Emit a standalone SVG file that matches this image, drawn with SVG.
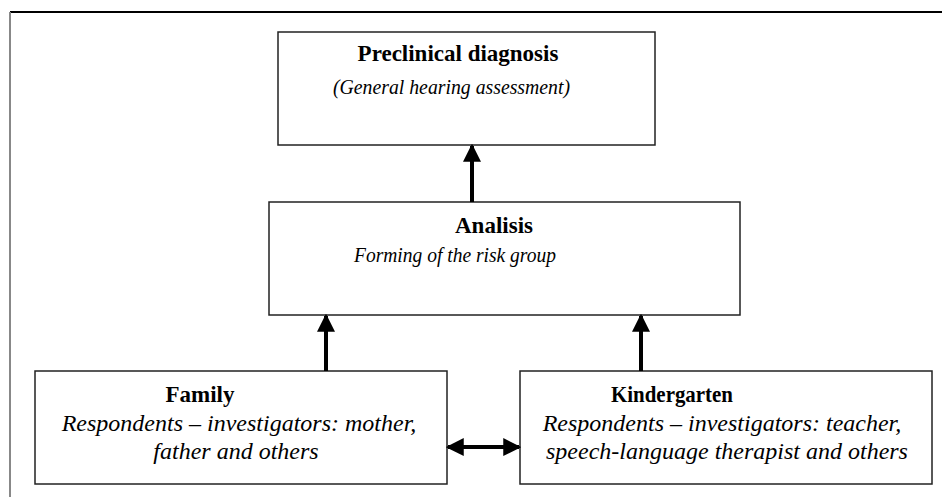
<svg xmlns="http://www.w3.org/2000/svg" width="943" height="497" viewBox="0 0 943 497">
<style>
.box{fill:#fff;stroke:#222;stroke-width:1.5}
.t{font-family:"Liberation Serif","Times New Roman",serif;font-size:22px;fill:#000}
.b{font-weight:bold;font-size:23px}
.i{font-style:italic}
.s{font-size:24px}
.m{text-anchor:middle}
.c{stroke:#000;stroke-width:4;fill:none}
</style>
<defs>
<marker id="ah" markerUnits="userSpaceOnUse" markerWidth="18" markerHeight="18" refX="14" refY="8" orient="auto-start-reverse" viewBox="0 0 16 16">
<path d="M0,0 L16,8 L0,16 Z" fill="#000"/>
</marker>
</defs>
<rect width="943" height="497" fill="#fff"/>
<g id="frame">
<line x1="10" y1="12" x2="942" y2="12" stroke="#000" stroke-width="2"/>
<line x1="10" y1="12" x2="10" y2="497" stroke="#888" stroke-width="2"/>
</g>
<g id="preclinical">
<rect class="box" x="278" y="32" width="377" height="113"/>
<text class="t b m" x="458" y="61">Preclinical diagnosis</text>
<text class="t i" x="333" y="94" textLength="237" lengthAdjust="spacingAndGlyphs">(General hearing assessment)</text>
</g>
<g id="analisis">
<rect class="box" x="269" y="202" width="471" height="113"/>
<text class="t b m" x="494" y="233">Analisis</text>
<text class="t i" x="354" y="262" textLength="202" lengthAdjust="spacingAndGlyphs">Forming of the risk group</text>
</g>
<g id="family">
<rect class="box" x="35" y="371" width="412" height="113"/>
<text class="t b m" x="200" y="402">Family</text>
<text class="t i s m" x="239" y="431">Respondents – investigators: mother,</text>
<text class="t i s m" x="236" y="459">father and others</text>
</g>
<g id="kindergarten">
<rect class="box" x="520" y="371" width="412" height="113"/>
<text class="t b" x="611" y="402" textLength="122" lengthAdjust="spacingAndGlyphs">Kindergarten</text>
<text class="t i s m" x="722" y="431">Respondents – investigators: teacher,</text>
<text class="t i s m" x="727" y="459">speech-language therapist and others</text>
</g>
<g id="connectors">
<line class="c" x1="472" y1="202" x2="472" y2="146" marker-end="url(#ah)"/>
<line class="c" x1="326" y1="371" x2="326" y2="316" marker-end="url(#ah)"/>
<line class="c" x1="641" y1="371" x2="641" y2="316" marker-end="url(#ah)"/>
<line class="c" x1="448" y1="447" x2="519" y2="447" marker-start="url(#ah)" marker-end="url(#ah)"/>
</g>
</svg>
